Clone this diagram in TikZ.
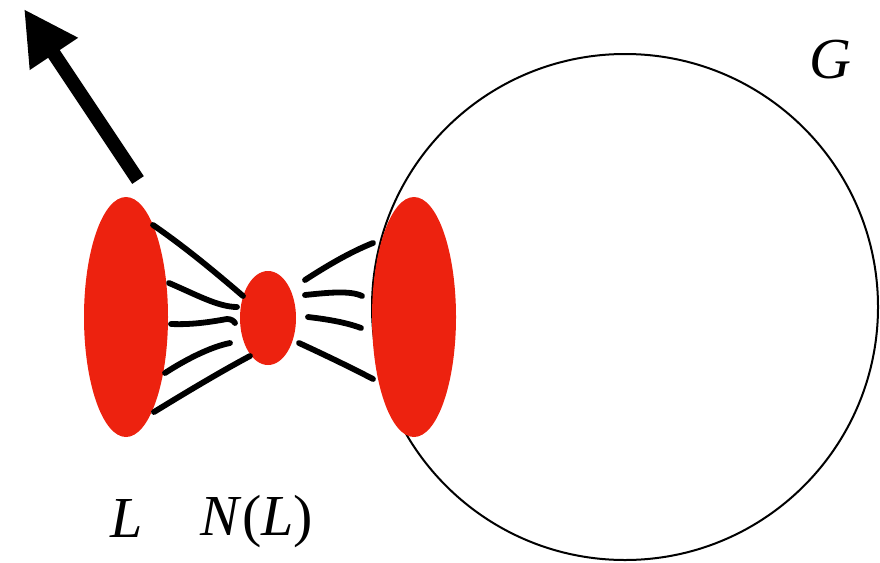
\documentclass[tikz,border=0pt]{standalone}
\usepackage{fontspec}
\setmainfont{Liberation Serif}
\usetikzlibrary{shapes.geometric,arrows.meta}
\definecolor{blobred}{RGB}{237,34,15}
\tikzset{
  blob/.style={ellipse, fill=blobred, draw=none, inner sep=0pt},
  strand/.style={line width=5.8pt, line cap=round, black},
  lbl/.style={font=\fontsize{58}{60}\selectfont, inner sep=0pt, anchor=base}
}
\begin{document}
\begin{tikzpicture}[x=1pt,y=-1pt]
\useasboundingbox (0,0) rectangle (880,562);
% big circle G
\node[circle, draw, line width=2pt, minimum size=506pt, inner sep=0pt] (Gc) at (625,307) {};
% red blobs
\node[blob, minimum width=84pt, minimum height=240pt] (Lb) at (126,317) {};
\node[blob, minimum width=56pt, minimum height=94pt] (Nb) at (268,318) {};
\node[blob, minimum width=84pt, minimum height=240pt] (Rb) at (414,317) {};
% arrow
\coordinate (as) at (138,180);
\coordinate (at) at (24,9);
\draw[line width=14pt, -{Triangle[length=54pt,width=54pt]}] (as) -- (at);
% strands left
\draw[strand] (153,225) .. controls (185,247) and (215,272) .. (243,296);
\draw[strand] (169,283) .. controls (195,294) and (218,307) .. (237,307);
\draw[strand] (171,324) .. controls (195,325) and (215,321) .. (227,319) .. controls (231,319) and (234,321) .. (235,323);
\draw[strand] (165,373) .. controls (185,360) and (210,347) .. (230,343);
\draw[strand] (154,412) .. controls (185,393) and (220,372) .. (250,356);
% strands right
\draw[strand] (305,280) .. controls (325,267) and (350,252) .. (373,243);
\draw[strand] (305,295) .. controls (325,293) and (350,290) .. (362,296);
\draw[strand] (308,317) .. controls (325,319) and (345,322) .. (361,328);
\draw[strand] (299,343) .. controls (325,355) and (350,367) .. (373,379);
% labels
\node[lbl] (tL) at (127,537) {\textit{L}};
\node[lbl] (tN) at (257,535) {\textit{N}(\textit{L})};
\node[lbl] (tG) at (830,78) {\textit{G}};
\end{tikzpicture}
\end{document}
